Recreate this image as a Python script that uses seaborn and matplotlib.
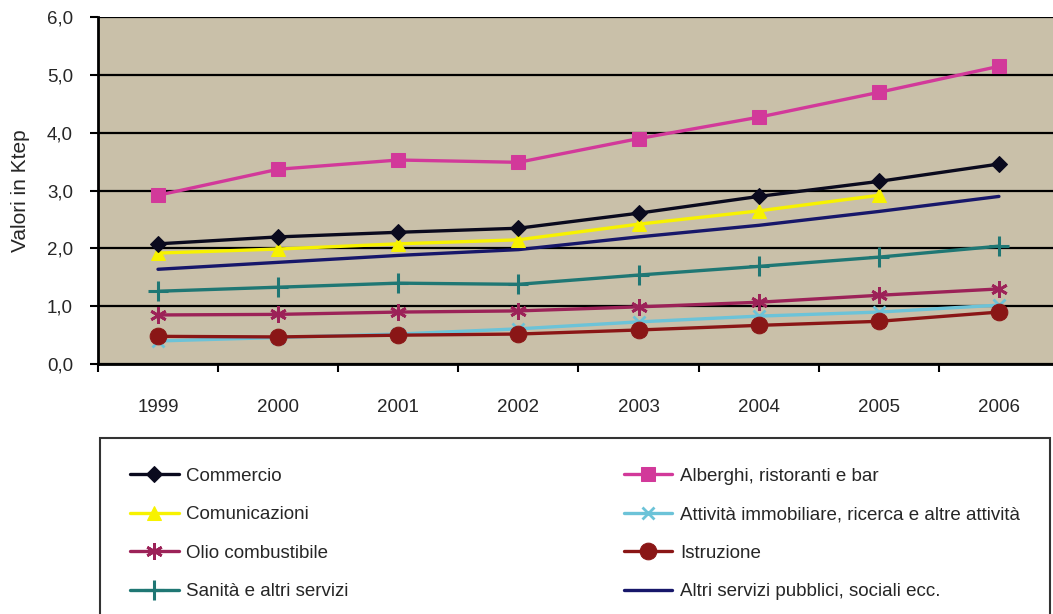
import numpy as np
import pandas as pd
import matplotlib
matplotlib.use("Agg")
import matplotlib.pyplot as plt
from matplotlib.ticker import FuncFormatter, FixedLocator
import seaborn as sns

# Energy consumption of the service sector, values in ktep
anni = ["1999", "2000", "2001", "2002", "2003", "2004", "2005", "2006"]

commercio = [2.08, 2.20, 2.28, 2.35, 2.61, 2.90, 3.16, 3.46]
comunicazioni = [1.92, 1.99, 2.08, 2.15, 2.42, 2.65, 2.92, np.nan]
olio_combustibile = [0.85, 0.86, 0.90, 0.92, 0.99, 1.07, 1.19, 1.30]
sanita = [1.26, 1.33, 1.40, 1.38, 1.54, 1.69, 1.85, 2.04]
alberghi = [2.92, 3.37, 3.53, 3.49, 3.90, 4.27, 4.70, 5.15]
attivita_immobiliare = [0.40, 0.46, 0.52, 0.61, 0.73, 0.83, 0.90, 1.02]
istruzione = [0.48, 0.47, 0.50, 0.52, 0.59, 0.67, 0.74, 0.90]
altri_servizi = [1.64, 1.76, 1.88, 1.98, 2.20, 2.40, 2.64, 2.90]

serie = {
    "Commercio": commercio,
    "Comunicazioni": comunicazioni,
    "Olio combustibile": olio_combustibile,
    "Sanità e altri servizi": sanita,
    "Alberghi, ristoranti e bar": alberghi,
    "Attività immobiliare, ricerca e altre attività": attivita_immobiliare,
    "Istruzione": istruzione,
    "Altri servizi pubblici, sociali ecc.": altri_servizi,
}

stili = {
    "Commercio": dict(color="#0a0a1e", marker="D", markersize=8),
    "Comunicazioni": dict(color="#f7f200", marker="^", markersize=10),
    "Olio combustibile": dict(color="#9c2258", marker=(6, 2, 0), markersize=12, markeredgewidth=2),
    "Sanità e altri servizi": dict(color="#1f7774", marker="+", markersize=15, markeredgewidth=2.2),
    "Alberghi, ristoranti e bar": dict(color="#d2399a", marker="s", markersize=10),
    "Attività immobiliare, ricerca e altre attività": dict(color="#6cc3d8", marker="x", markersize=9, markeredgewidth=2),
    "Istruzione": dict(color="#8a1616", marker="o", markersize=12),
    "Altri servizi pubblici, sociali ecc.": dict(color="#17176a", marker=None),
}

ordine_disegno = [
    "Altri servizi pubblici, sociali ecc.",
    "Attività immobiliare, ricerca e altre attività",
    "Istruzione",
    "Olio combustibile",
    "Sanità e altri servizi",
    "Comunicazioni",
    "Commercio",
    "Alberghi, ristoranti e bar",
]

sns.set_theme(style="white")
plt.rcParams["font.family"] = ["Liberation Sans", "DejaVu Sans"]
FS = 13.5

fig = plt.figure(figsize=(10.53, 6.14), dpi=100)
ax = fig.add_axes([0.093, 0.407, 0.907, 0.565])
ax.set_facecolor("#c9c0a9")

x = np.arange(len(anni))
for nome in ordine_disegno:
    st = dict(stili[nome])
    sns.lineplot(x=x, y=serie[nome], ax=ax, label=nome, linewidth=2.4,
                 markeredgecolor=st["color"], **st)

ax.set_xlim(-0.5, 7.45)
ax.set_ylim(0, 6)

# y axis
ax.set_yticks(np.arange(0, 7, 1))
ax.yaxis.set_major_formatter(FuncFormatter(lambda v, p: f"{v:.1f}".replace(".", ",")))
ax.grid(axis="y", color="black", linewidth=1.6)
ax.set_axisbelow(True)
ax.tick_params(axis="y", length=6, width=1.5, color="black", labelsize=FS, pad=12, left=True)
ax.set_ylabel("Valori in Ktep", fontsize=15, labelpad=12)

# x axis: labels at year centres, tick marks between years
ax.set_xticks(x)
ax.set_xticklabels(anni)
ax.tick_params(axis="x", which="major", length=0, labelsize=FS, pad=25)
ax.xaxis.set_minor_locator(FixedLocator(np.arange(-0.5, 8, 1)))
ax.tick_params(axis="x", which="minor", length=6, width=1.5, color="black", bottom=True)

for side in ["left", "bottom"]:
    ax.spines[side].set_color("black")
    ax.spines[side].set_linewidth(2)
ax.spines["top"].set_visible(False)
ax.spines["right"].set_visible(False)

handles, labels = ax.get_legend_handles_labels()
ax.get_legend().remove()
ordine_legenda = list(serie.keys())
h_map = dict(zip(labels, handles))
leg = fig.legend([h_map[n] for n in ordine_legenda], ordine_legenda,
                 ncol=2, mode="expand",
                 bbox_to_anchor=(0.095, 0.0, 0.902, 0.287), loc="upper left",
                 bbox_transform=fig.transFigure,
                 fontsize=FS, frameon=True, fancybox=False, edgecolor="black",
                 borderpad=1.6, labelspacing=1.14, handlelength=2.6,
                 handletextpad=0.4, borderaxespad=0)
leg.get_frame().set_linewidth(1.5)

fig.savefig("out.png", dpi=100, facecolor="white")
